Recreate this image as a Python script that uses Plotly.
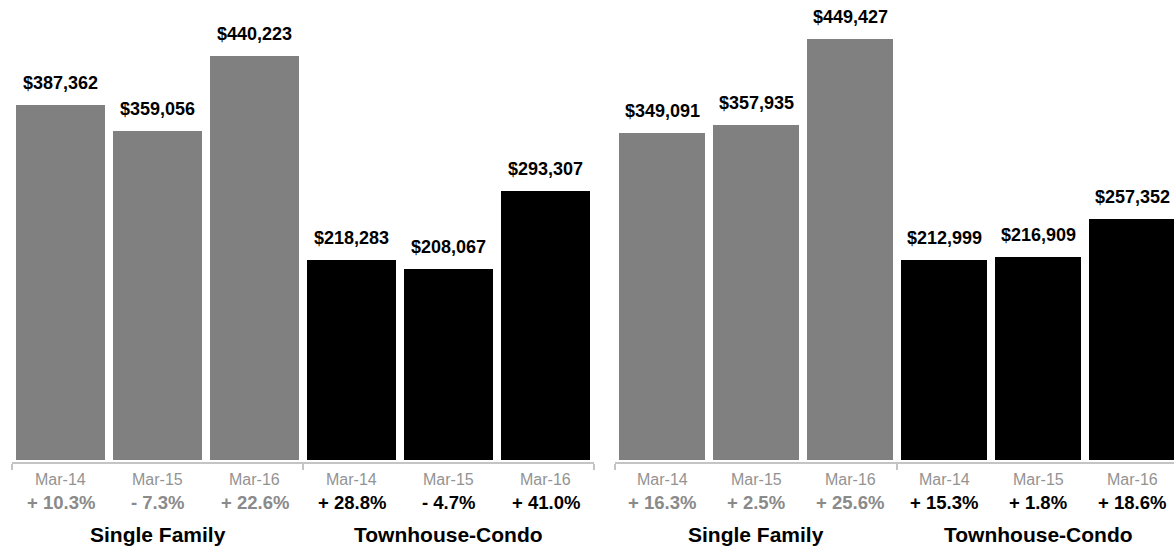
import plotly.graph_objects as go

W, H = 1174, 548

# Median sale price by month and property type, two regions
months = ["Mar-14", "Mar-15", "Mar-16"]
groups = ["Single Family", "Townhouse-Condo"]

left_values = [387362, 359056, 440223, 218283, 208067, 293307]
left_changes = [10.3, -7.3, 22.6, 28.8, -4.7, 41.0]

right_values = [349091, 357935, 449427, 212999, 216909, 257352]
right_changes = [16.3, 2.5, 25.6, 15.3, 1.8, 18.6]

GRAY = "#808080"
BLACK = "#000000"
FONT = "Liberation Sans, Arial, Helvetica, sans-serif"
bar_colors = [GRAY] * 3 + [BLACK] * 3
pct_colors = ["#8a8a8a"] * 3 + [BLACK] * 3


def py(px):
    """Convert a pixel row (from top) to paper y."""
    return (H - px) / H


def fmt_money(v):
    return f"${v:,.0f}"


def fmt_change(v):
    return f"{'+' if v >= 0 else '-'} {abs(v):.1f}%"


fig = go.Figure()

panels = [
    ("x", "y", left_values, left_changes, 0.918),
    ("x2", "y2", right_values, right_changes, 0.915),
]

annotations = []
cats = list(range(6))
for xa, ya, vals, chg, bw in panels:
    fig.add_trace(go.Bar(
        x=cats, y=vals, width=bw,
        marker=dict(color=bar_colors, line=dict(width=0)),
        xaxis=xa, yaxis=ya, showlegend=False, hoverinfo="skip",
    ))
    for i, v in enumerate(vals):
        annotations.append(dict(
            x=i, y=v, xref=xa, yref=ya, text=fmt_money(v), showarrow=False,
            yanchor="middle", yshift=22,
            font=dict(family=FONT, size=18, color=BLACK, weight="bold"),
        ))
        annotations.append(dict(
            x=i, y=py(479), xref=xa, yref="paper", text=months[i % 3],
            showarrow=False, yanchor="middle",
            font=dict(family=FONT, size=16, color="#939393"),
        ))
        annotations.append(dict(
            x=i, y=py(502), xref=xa, yref="paper", text=fmt_change(chg[i]),
            showarrow=False, yanchor="middle",
            font=dict(family=FONT, size=18.5, color=pct_colors[i], weight="bold"),
        ))
    for g, name in enumerate(groups):
        annotations.append(dict(
            x=1 + 3 * g, y=py(534), xref=xa, yref="paper", text=name,
            showarrow=False, yanchor="middle",
            font=dict(family=FONT, size=21, color=BLACK, weight="bold"),
        ))

axis_common = dict(
    showgrid=False, zeroline=False, showticklabels=False,
    showline=True, linecolor="#c4c4c4", linewidth=2,
    tickmode="array", tickvals=[-0.5, 2.5, 5.5],
    ticks="outside", ticklen=6, tickwidth=2, tickcolor="#c4c4c4",
    fixedrange=True,
)

# left panel: 97 px per category, right panel: 94 px per category
left_scale = 0.000917   # px per dollar
right_scale = 0.000937
base_px = 460
line_px = 462

fig.update_layout(
    width=W, height=H,
    margin=dict(l=0, r=0, t=0, b=0),
    paper_bgcolor="white", plot_bgcolor="white",
    bargap=0,
    xaxis=dict(domain=[12 / W, 594 / W], range=[-0.5, 5.5], anchor="y", **axis_common),
    xaxis2=dict(domain=[615 / W, 1.0], range=[-0.5, 5.5 - (615 + 6 * 94 - W) / 94],
                anchor="y2", **axis_common),
    yaxis=dict(domain=[py(line_px), 1.0],
               range=[-(line_px - base_px) / left_scale, base_px / left_scale],
               visible=False, fixedrange=True),
    yaxis2=dict(domain=[py(line_px), 1.0],
                range=[-(line_px - base_px) / right_scale, base_px / right_scale],
                visible=False, fixedrange=True, anchor="x2"),
    annotations=annotations,
)

fig.write_html("out.html")
